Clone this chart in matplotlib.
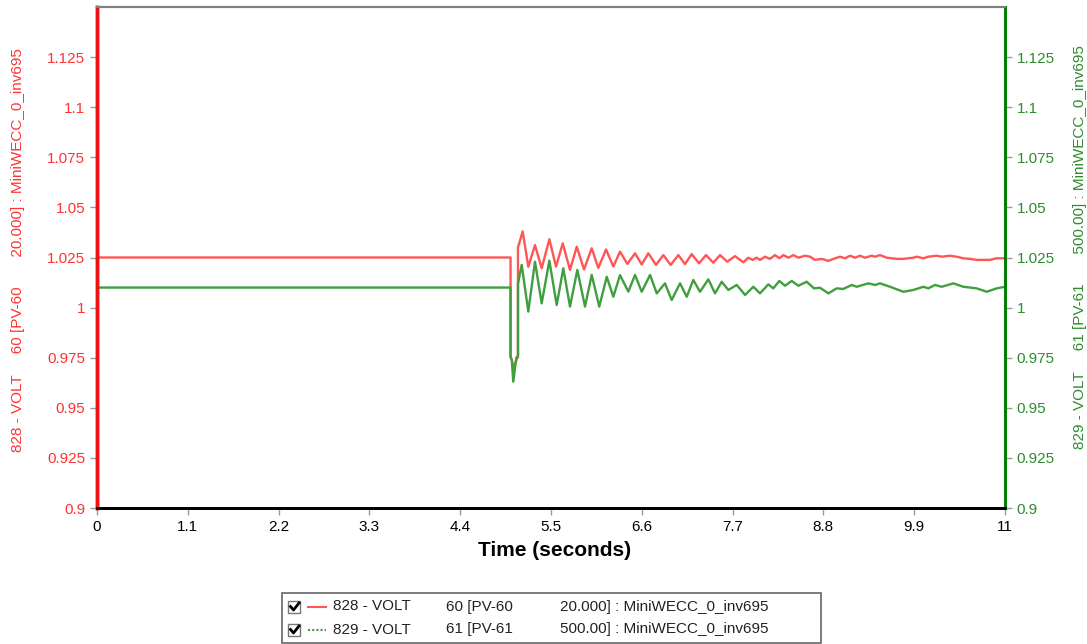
import matplotlib
matplotlib.use('Agg')
import matplotlib.pyplot as plt
from matplotlib.lines import Line2D
from matplotlib.patches import Rectangle

plt.rcParams['font.family'] = ['Liberation Sans', 'DejaVu Sans']

# values (time in s, voltage in pu)
t_828 = [0, 5.01, 5.01, 5.05, 5.09, 5.10, 5.10, 5.157, 5.225, 5.306, 5.387, 5.480, 5.561,
         5.642, 5.730, 5.812, 5.900, 5.993, 6.073, 6.167, 6.255, 6.336, 6.425, 6.518, 6.599,
         6.679, 6.772, 6.861, 6.950, 7.043, 7.124, 7.204, 7.293, 7.378, 7.466, 7.548, 7.636,
         7.729, 7.830, 7.891, 7.943, 7.992, 8.032, 8.093, 8.153, 8.214, 8.267, 8.315, 8.376,
         8.436, 8.497, 8.577, 8.638, 8.699, 8.779, 8.860, 8.941, 9.001, 9.062, 9.123, 9.183,
         9.244, 9.304, 9.385, 9.425, 9.486, 9.567, 9.688, 9.768, 9.890, 9.930, 10.011, 10.071,
         10.172, 10.233, 10.334, 10.415, 10.495, 10.576, 10.657, 10.818, 10.899, 11.0]
v_828 = [1.025, 1.025, 0.976, 0.970, 0.975, 0.975, 1.030, 1.038, 1.0204, 1.0312, 1.0196, 1.0341, 1.0204,
         1.0321, 1.0188, 1.0304, 1.0190, 1.0296, 1.0198, 1.0290, 1.0205, 1.0279, 1.0218, 1.0271, 1.0215,
         1.0271, 1.0213, 1.0262, 1.0213, 1.0262, 1.0217, 1.0267, 1.0221, 1.0262, 1.0224, 1.0262, 1.0229,
         1.0257, 1.0226, 1.0249, 1.0238, 1.0249, 1.0238, 1.0254, 1.0243, 1.0262, 1.0246, 1.0262, 1.0249,
         1.0262, 1.0249, 1.0259, 1.0254, 1.0238, 1.0243, 1.0233, 1.0246, 1.0254, 1.0246, 1.0259, 1.0249,
         1.0259, 1.0249, 1.0259, 1.0254, 1.0262, 1.0249, 1.0243, 1.0243, 1.0249, 1.0254, 1.0246, 1.0254,
         1.0259, 1.0254, 1.0259, 1.0254, 1.0246, 1.0243, 1.0238, 1.0238, 1.0246, 1.0246]

t_829 = [0, 5.01, 5.01, 5.025, 5.043, 5.08, 5.10, 5.10, 5.145, 5.225, 5.306, 5.387, 5.480, 5.569,
         5.649, 5.730, 5.819, 5.912, 5.993, 6.085, 6.175, 6.255, 6.336, 6.437, 6.518, 6.599, 6.700,
         6.781, 6.881, 6.962, 7.063, 7.144, 7.224, 7.305, 7.406, 7.487, 7.568, 7.648, 7.750, 7.851,
         7.951, 8.032, 8.133, 8.193, 8.266, 8.335, 8.416, 8.496, 8.598, 8.686, 8.759, 8.860, 8.961,
         9.041, 9.143, 9.204, 9.344, 9.426, 9.486, 9.607, 9.768, 9.890, 10.011, 10.071, 10.152,
         10.233, 10.374, 10.495, 10.657, 10.778, 10.900, 11.0]
v_829 = [1.010, 1.010, 0.975, 0.974, 0.963, 0.975, 0.976, 1.012, 1.0213, 0.998, 1.0229, 1.0021, 1.0234, 1.0013,
         1.0196, 1.0005, 1.0188, 1.0005, 1.0163, 1.0005, 1.0154, 1.0054, 1.0162, 1.0080, 1.0163, 1.0079, 1.0163,
         1.0071, 1.0121, 1.0038, 1.0121, 1.0054, 1.0138, 1.0079, 1.0141, 1.0071, 1.0129, 1.0088, 1.0113, 1.0063,
         1.0104, 1.0071, 1.0116, 1.0096, 1.0133, 1.0109, 1.0133, 1.0109, 1.0129, 1.0096, 1.0099, 1.0071, 1.0096,
         1.0093, 1.0113, 1.0104, 1.0121, 1.0113, 1.0121, 1.0104, 1.0079, 1.0088, 1.0104, 1.0096, 1.0113,
         1.0104, 1.0121, 1.0104, 1.0096, 1.0079, 1.0096, 1.0104]

x_ticks = [0, 1.1, 2.2, 3.3, 4.4, 5.5, 6.6, 7.7, 8.8, 9.9, 11]
x_tick_labels = ['0', '1.1', '2.2', '3.3', '4.4', '5.5', '6.6', '7.7', '8.8', '9.9', '11']
y_ticks = [0.9, 0.925, 0.95, 0.975, 1.0, 1.025, 1.05, 1.075, 1.1, 1.125]
y_tick_labels = ['0.9', '0.925', '0.95', '0.975', '1', '1.025', '1.05', '1.075', '1.1', '1.125']

leg_name = ['828 - VOLT', '829 - VOLT']
leg_bus = ['60 [PV-60', '61 [PV-61']
leg_tail = ['20.000] : MiniWECC_0_inv695', '500.00] : MiniWECC_0_inv695']

W, H = 1087, 644
RED_LINE = '#ff5555'
GREEN_LINE = '#3f9f3f'
RED_TXT = '#ff3333'
GREEN_TXT = '#2e8b2e'


def fx(x):
    return x / W


def fy(y):
    return 1 - y / H


fig = plt.figure(figsize=(W / 100, H / 100), dpi=100)
ax = fig.add_axes([fx(97), fy(508), fx(1005) - fx(97), fy(7) - fy(508)])

ax.plot(t_828, v_828, color=RED_LINE, lw=1.7, solid_joinstyle='round')
ax.plot(t_829, v_829, color=GREEN_LINE, lw=1.7, solid_joinstyle='round')

ax.set_xlim(0, 11)
ax.set_ylim(0.9, 1.15)
ax.set_xticks(x_ticks)
ax.set_xticklabels(x_tick_labels)
ax.set_yticks(y_ticks)
ax.set_yticklabels(y_tick_labels)
ax.tick_params(axis='x', colors='#999999', labelcolor='black', labelsize=11, length=5, width=1)
ax.tick_params(axis='y', colors='#999999', labelcolor=RED_TXT, labelsize=11, length=5, width=1)

ax2 = ax.twinx()
ax2.set_ylim(0.9, 1.15)
ax2.set_yticks(y_ticks)
ax2.set_yticklabels(y_tick_labels)
ax2.tick_params(axis='y', colors='#999999', labelcolor=GREEN_TXT, labelsize=11, length=5, width=1)

for a in (ax, ax2):
    a.spines['left'].set_color('#ee1111')
    a.spines['left'].set_linewidth(2.5)
    a.spines['right'].set_color('#008000')
    a.spines['right'].set_linewidth(2)
    a.spines['top'].set_color('#808080')
    a.spines['top'].set_linewidth(1.5)
    a.spines['bottom'].set_color('black')
    a.spines['bottom'].set_linewidth(2)

fig.text(fx(555), fy(551), 'Time (seconds)', fontsize=15, fontweight='bold', ha='center', va='center')
fig.text(fx(18), fy(250), '828 - VOLT     60 [PV-60       20.000] : MiniWECC_0_inv695',
         rotation=90, color=RED_TXT, fontsize=11, ha='center', va='center')
fig.text(fx(1080), fy(247), '829 - VOLT     61 [PV-61       500.00] : MiniWECC_0_inv695',
         rotation=90, color=GREEN_TXT, fontsize=11, ha='center', va='center')

# legend box drawn by hand
fig.patches.append(Rectangle((fx(282), fy(643)), fx(821) - fx(282), fy(593) - fy(643),
                             transform=fig.transFigure, fill=False, edgecolor='#666666', lw=1.2))
row_y = [606.5, 629.5]
styles = [dict(color=RED_LINE, lw=1.5), dict(color=GREEN_LINE, lw=1.5, linestyle=(0, (1, 1)))]
for i in range(2):
    yy = row_y[i]
    fig.patches.append(Rectangle((fx(288), fy(yy + 6)), fx(12), 12 / H, transform=fig.transFigure,
                                 fill=True, facecolor='white', edgecolor='#777777', lw=1))
    fig.lines.append(Line2D([fx(290.5), fx(293.5), fx(299)], [fy(yy), fy(yy + 3.5), fy(yy - 3.5)],
                            transform=fig.transFigure, color='black', lw=2))
    fig.lines.append(Line2D([fx(308), fx(326)], [fy(yy), fy(yy)], transform=fig.transFigure, **styles[i]))
    fig.text(fx(333), fy(yy), leg_name[i], fontsize=11, color='#222222', va='center')
    fig.text(fx(446), fy(yy), leg_bus[i], fontsize=11, color='#222222', va='center')
    fig.text(fx(560), fy(yy), leg_tail[i], fontsize=11, color='#222222', va='center')

plt.savefig('out.png', dpi=100)
